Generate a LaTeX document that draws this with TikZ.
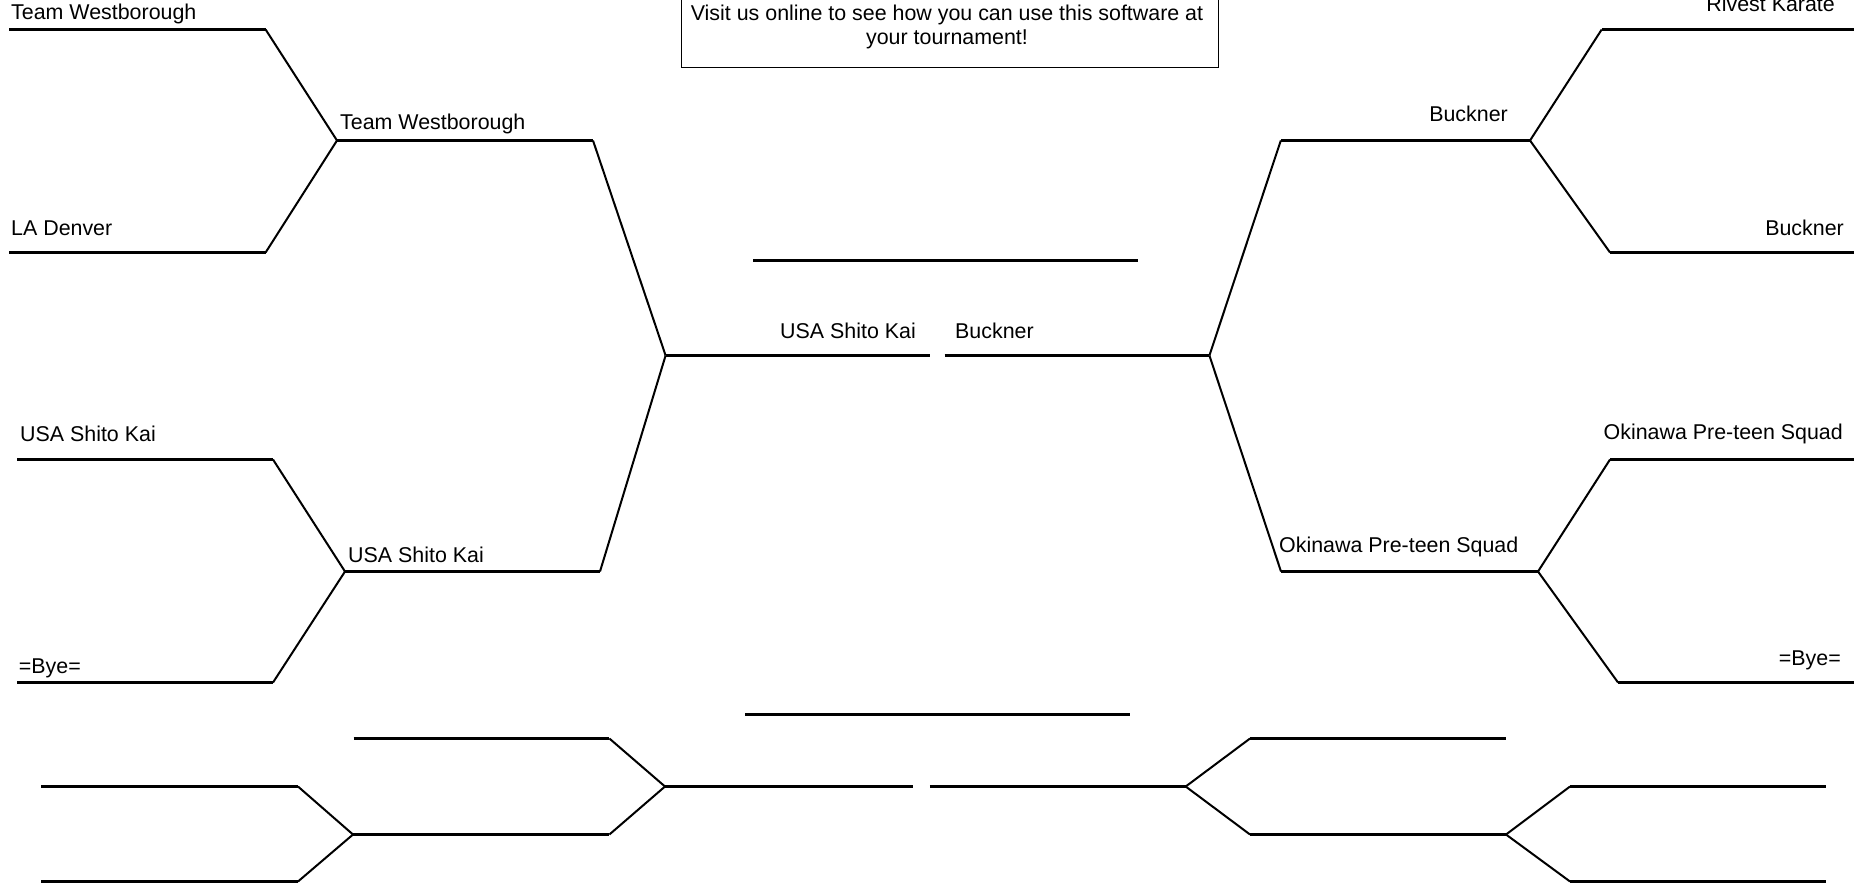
\documentclass[tikz,border=0pt]{standalone}
\usepackage{fontspec}
\setmainfont{Liberation Sans}
\begin{document}
\begin{tikzpicture}[x=1pt,y=-1pt,
  hline/.style={line width=3pt},
  dline/.style={line width=2pt},
  boxline/.style={line width=1.3pt},
  lbl/.style={inner sep=0pt,font=\fontsize{21.4pt}{24.4pt}\selectfont}]
\useasboundingbox (0,0) rectangle (1854,883);
\clip (0,0) rectangle (1854,883);
% ---- main bracket, left half
\coordinate (A1s) at (9,29.5);      \coordinate (A1e) at (265.6,29.5);
\coordinate (A2s) at (9,252.5);     \coordinate (A2e) at (265.6,252.5);
\coordinate (JA)  at (337,140.5);   \coordinate (JAe) at (593,140.5);
\coordinate (B1s) at (17,459.5);    \coordinate (B1e) at (273,459.5);
\coordinate (B2s) at (17,682.5);    \coordinate (B2e) at (273,682.5);
\coordinate (JB)  at (345,571.5);   \coordinate (JBe) at (600,571.5);
\coordinate (JL)  at (665.6,355.5); \coordinate (JLe) at (929.5,355.5);
% ---- main bracket, right half
\coordinate (JRe) at (944.6,355.5); \coordinate (JR)  at (1209.4,355.5);
\coordinate (JCs) at (1280.8,140.5);\coordinate (JC)  at (1530,140.5);
\coordinate (C1s) at (1601.7,29.5); \coordinate (C1e) at (1854,29.5);
\coordinate (C2s) at (1610,252.5);  \coordinate (C2e) at (1854,252.5);
\coordinate (JDs) at (1281,571.5);  \coordinate (JD)  at (1538,571.5);
\coordinate (D1s) at (1610,459.5);  \coordinate (D1e) at (1854,459.5);
\coordinate (D2s) at (1618,682.5);  \coordinate (D2e) at (1854,682.5);
% ---- centre lines
\coordinate (T1) at (753,260.5);    \coordinate (T2) at (1138,260.5);
\coordinate (U1) at (745.4,714.5);  \coordinate (U2) at (1129.7,714.5);
% ---- consolation bracket
\coordinate (E1s) at (353.6,738.5); \coordinate (E1e) at (609.4,738.5);
\coordinate (F1s) at (41,786.5);    \coordinate (F1e) at (298,786.5);
\coordinate (F2s) at (41,881.5);    \coordinate (F2e) at (298,881.5);
\coordinate (JF)  at (353,834.5);   \coordinate (JFe) at (609.4,834.5);
\coordinate (JE)  at (665,786.5);   \coordinate (JEe) at (913.3,786.5);
\coordinate (JGe) at (929.8,786.5); \coordinate (JG)  at (1185.7,786.5);
\coordinate (G1s) at (1250,738.5);  \coordinate (G1e) at (1506,738.5);
\coordinate (JHs) at (1250,834.5);  \coordinate (JH)  at (1506,834.5);
\coordinate (H1s) at (1570,786.5);  \coordinate (H1e) at (1826,786.5);
\coordinate (H2s) at (1570,881.5);  \coordinate (H2e) at (1826,881.5);

% horizontals
\foreach \a/\b in {A1s/A1e,A2s/A2e,JA/JAe,B1s/B1e,B2s/B2e,JB/JBe,JL/JLe,
  JRe/JR,JCs/JC,C1s/C1e,C2s/C2e,JDs/JD,D1s/D1e,D2s/D2e,T1/T2,U1/U2,
  E1s/E1e,F1s/F1e,F2s/F2e,JF/JFe,JE/JEe,JGe/JG,G1s/G1e,JHs/JH,H1s/H1e,H2s/H2e}
  \draw[hline] (\a) -- (\b);
% diagonals
\foreach \a/\b in {A1e/JA,A2e/JA,B1e/JB,B2e/JB,JAe/JL,JBe/JL,
  JR/JCs,JR/JDs,JC/C1s,JC/C2s,JD/D1s,JD/D2s,
  E1e/JE,JFe/JE,F1e/JF,F2e/JF,JG/G1s,JG/JHs,JH/H1s,JH/H2s}
  \draw[dline] (\a) -- (\b);

% info box
\coordinate (BXa) at (681.7,-40);
\coordinate (BXb) at (1218.3,67.7);
\draw[boxline] (BXa) rectangle (BXb);
\node[lbl,anchor=base] (info1) at (947,20.5) {Visit us online to see how you can use this software at};
\node[lbl,anchor=base] (info2) at (947,45) {your tournament!};

% labels
\node[lbl,anchor=base west] (l1) at (11,20) {Team Westborough};
\node[lbl,anchor=base west] (l2) at (11,235) {LA Denver};
\node[lbl,anchor=base west] (l3) at (340,129) {Team Westborough};
\node[lbl,anchor=base west] (l4) at (20,441) {USA Shito Kai};
\node[lbl,anchor=base west] (l5) at (18.7,673) {=Bye=};
\node[lbl,anchor=base west] (l6) at (348,562) {USA Shito Kai};
\node[lbl,anchor=base east] (l7) at (916,338) {USA Shito Kai};
\node[lbl,anchor=base west] (l8) at (955,338) {Buckner};
\node[lbl,anchor=base east] (r1) at (1835,12) {Rivest Karate};
\node[lbl,anchor=base east] (r2) at (1844,235) {Buckner};
\node[lbl,anchor=base east] (r3) at (1508,121) {Buckner};
\node[lbl,anchor=base east] (r4) at (1843,439) {Okinawa Pre-teen Squad};
\node[lbl,anchor=base east] (r5) at (1841,665) {=Bye=};
\node[lbl,anchor=base west] (r6) at (1279,552.5) {Okinawa Pre-teen Squad};
\end{tikzpicture}
\end{document}
